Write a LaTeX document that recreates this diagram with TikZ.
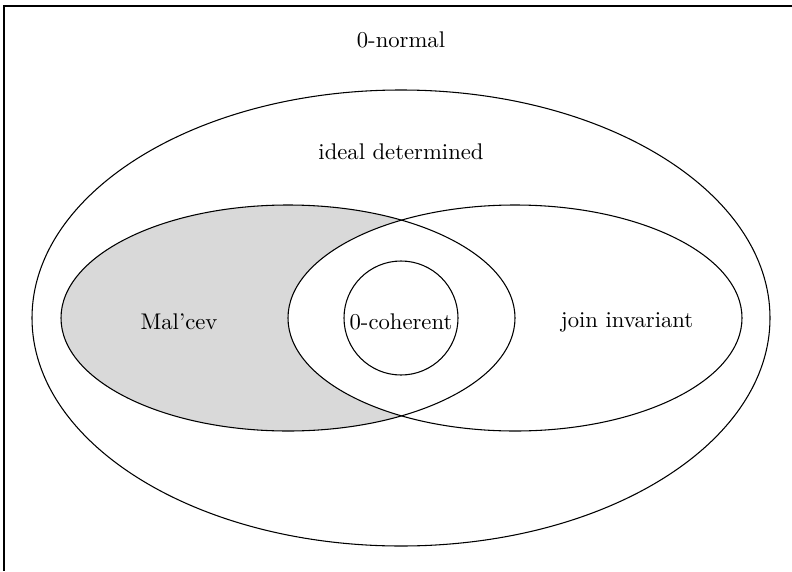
\documentclass[tikz,border=0pt]{standalone}
\begin{document}
\begin{tikzpicture}[x=0.75pt,y=-0.75pt,
  set/.style={draw=black,line width=0.8pt},
  lbl/.style={scale=1.7,inner sep=0pt}]
\useasboundingbox (0,0) rectangle (792,571);
\coordinate (tr) at (792,6);
\coordinate (bl) at (4,571);
\draw[line width=1.2pt] (tr) -- (4,6) -- (bl);
\begin{scope}
  \clip (0,0) rectangle (792,571);
  \fill[gray!30] (288,318) ellipse [x radius=227,y radius=113];
  \fill[white] (515,318) ellipse [x radius=227,y radius=113];
\end{scope}
\draw[set] (401,318) ellipse [x radius=369,y radius=228];
\draw[set] (288,318) ellipse [x radius=227,y radius=113];
\draw[set] (515,318) ellipse [x radius=227,y radius=113];
\draw[set] (401,318) circle [radius=57];
\node[lbl] (n0) at (401,40) {0-normal};
\node[lbl] (id) at (401,152) {ideal determined};
\node[lbl] (mc) at (179,322) {Mal'cev};
\node[lbl] (co) at (401,322) {0-coherent};
\node[lbl] (ji) at (627,322) {join invariant};
\end{tikzpicture}
\end{document}
